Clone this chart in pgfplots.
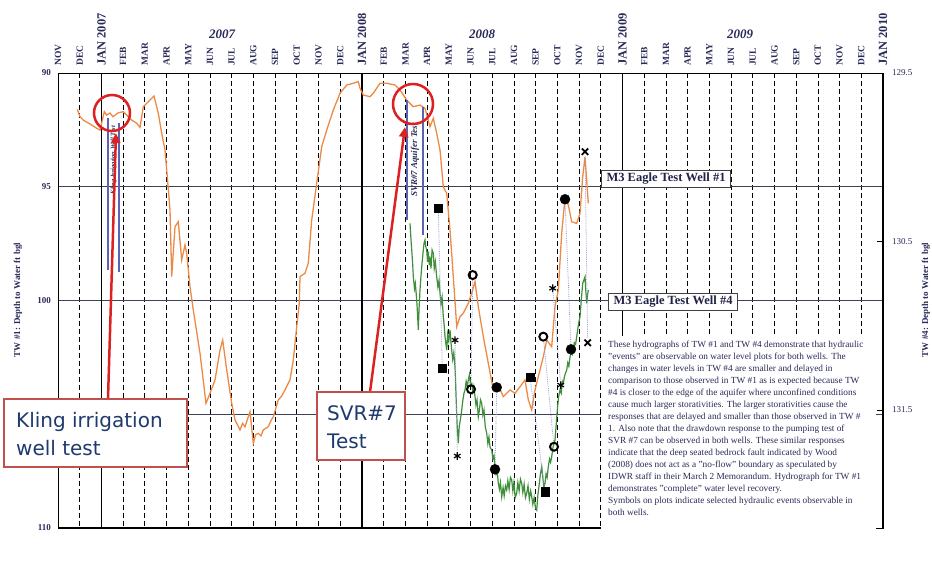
\documentclass[border=0pt]{standalone}
\usepackage{pgfplots}
\pgfplotsset{compat=1.18}
\usepackage{fontspec}
\setmainfont{Liberation Serif}
\newfontfamily\boxfont{DejaVu Sans}
\usetikzlibrary{arrows.meta}
\definecolor{orangeL}{HTML}{EC8A45}
\definecolor{greenL}{HTML}{3F8F3A}
\definecolor{gridH}{HTML}{3A4454}
\definecolor{bandBlue}{HTML}{5A64B4}
\definecolor{annRed}{HTML}{DD2020}
\definecolor{boxRed}{HTML}{C0504D}
\definecolor{navy}{HTML}{1F3A6E}
\definecolor{inkBlue}{HTML}{2A2A58}
\definecolor{dotLav}{HTML}{9A9AD8}

\begin{document}
\begin{tikzpicture}[x=1pt,y=1pt]
\useasboundingbox (0,0) rectangle (932,573);
% ---------------- TW #1 (left axis) ----------------
\begin{axis}[
  at={(58pt,45pt)}, anchor=south west,
  scale only axis, width=825pt, height=455pt,
  xmin=0, xmax=38, ymin=90, ymax=110, y dir=reverse,
  axis line style={black, line width=0.9pt},
  xtick={0,...,38},
  xticklabels={NOV,DEC,{\fontsize{12.5}{12.5}\selectfont JAN 2007},FEB,MAR,APR,MAY,JUN,JUL,AUG,SEP,OCT,NOV,DEC,{\fontsize{12.5}{12.5}\selectfont JAN 2008},FEB,MAR,APR,MAY,JUN,JUL,AUG,SEP,OCT,NOV,DEC,{\fontsize{12.5}{12.5}\selectfont JAN 2009},FEB,MAR,APR,MAY,JUN,JUL,AUG,SEP,OCT,NOV,DEC,{\fontsize{12.5}{12.5}\selectfont JAN 2010}},
  xticklabel pos=upper,
  xticklabel style={rotate=90, anchor=west, font=\bfseries\fontsize{9.5}{10}\selectfont, inner sep=0pt, text=inkBlue},
  xticklabel shift=7pt,
  ytick={90,95,100,105,110},
  yticklabels={90,95,100,,110},
  yticklabel style={font=\bfseries\fontsize{9}{9}\selectfont, inner sep=0pt, text=inkBlue},
  yticklabel shift=7pt,
  major tick length=0pt,
  xmajorgrids, ymajorgrids,
  x grid style={black, line width=0.7pt, dash pattern=on 5pt off 3pt},
  y grid style={gridH, line width=0.9pt},
  extra x ticks={2,14,26},
  extra x tick labels={},
  extra x tick style={x grid style={black, solid, line width=1.4pt}},
  clip=false,
]
\addplot[orangeL, line width=1.3pt] coordinates {
(0.889,91.60)(1.013,91.92)(1.165,92.07)(1.474,92.24)(1.783,92.43)(1.935,92.51)(2.133,91.70)(2.243,91.85)(2.395,91.76)(2.533,91.92)(2.777,91.75)(3.008,91.70)(3.238,91.92)(3.395,92.07)(3.625,92.21)(3.777,92.39)(3.929,91.48)(4.159,91.26)(4.422,91.01)(4.620,91.77)(4.777,92.65)(4.928,93.38)(5.034,94.56)(5.159,96.02)(5.237,98.95)(5.389,96.76)(5.541,96.54)(5.698,98.22)(5.850,97.56)(5.928,97.93)(6.080,99.39)(6.232,100.42)(6.541,102.32)(6.817,104.52)(7.001,104.08)(7.232,103.49)(7.462,102.18)(7.586,101.74)(7.770,103.05)(8.001,104.52)(8.153,105.25)(8.383,105.69)(8.500,105.40)(8.613,105.55)(8.844,104.89)(8.996,106.28)(9.100,105.90)(9.226,105.84)(9.350,105.95)(9.456,105.69)(9.687,105.55)(9.800,105.30)(9.917,105.11)(10.147,104.37)(10.300,104.20)(10.456,103.93)(10.686,103.49)(10.838,102.62)(10.995,101.15)(11.114,100.12)(11.147,98.95)(11.377,98.80)(11.529,98.36)(11.686,96.46)(11.916,94.85)(12.146,93.24)(12.377,92.51)(12.680,91.63)(12.989,90.89)(13.298,90.53)(13.602,90.45)(13.832,90.38)(13.910,90.67)(14.062,90.97)(14.371,91.04)(14.523,90.89)(14.831,90.45)(15.140,90.45)(15.523,90.53)(15.753,90.75)(16.062,91.19)(16.366,91.48)(16.674,91.41)(16.904,91.55)(17.135,92.36)(17.287,91.99)(17.443,92.65)(17.595,93.38)(17.747,95.00)(17.904,95.29)(18.056,96.90)(18.208,98.95)(18.365,101.15)(18.517,100.71)(18.669,100.56)(18.899,100.12)(19.056,99.68)(19.208,99.17)(19.360,100.27)(19.590,101.59)(19.820,102.76)(20.051,103.93)(20.281,103.71)(20.511,104.23)(20.820,103.93)(21.050,104.08)(21.280,103.79)(21.511,103.49)(21.663,104.37)(21.819,104.81)(21.971,103.93)(22.123,103.35)(22.354,102.47)(22.510,101.74)(22.740,102.03)(22.892,100.27)(23.044,99.54)(23.201,97.05)(23.353,95.51)(23.505,95.80)(23.661,96.54)(23.892,96.61)(24.044,96.17)(24.168,94.56)(24.274,93.68)(24.426,95.73)
};
\addplot[only marks, mark=square*, mark size=4.3pt, black] coordinates {(17.517,95.95)(21.741,103.38)};
\addplot[only marks, mark=asterisk, mark size=3.8pt, black, line width=1.2pt] coordinates {(18.286,101.74)(22.786,99.46)};
\addplot[only marks, mark=o, mark size=4pt, black, line width=2pt] coordinates {(19.101,98.88)(22.354,101.59)};
\addplot[only marks, mark=*, mark size=5pt, black] coordinates {(20.207,103.82)(23.353,95.55)};
\addplot[only marks, mark=x, mark size=4.5pt, black, line width=1.8pt] coordinates {(24.274,93.46)};
\coordinate (o1) at (axis cs:17.517,95.95);
\coordinate (o2) at (axis cs:18.286,101.74);
\coordinate (o3) at (axis cs:19.101,98.88);
\coordinate (o4) at (axis cs:20.207,103.82);
\coordinate (o5) at (axis cs:21.741,103.38);
\coordinate (o6) at (axis cs:22.354,101.59);
\coordinate (o7) at (axis cs:22.786,99.46);
\coordinate (o8) at (axis cs:23.353,95.55);
\coordinate (o9) at (axis cs:24.274,93.46);
\end{axis}
% ---------------- TW #4 (right axis) ----------------
\begin{axis}[
  at={(58pt,45pt)}, anchor=south west,
  scale only axis, width=825pt, height=455pt,
  xmin=0, xmax=38, ymin=129.5, ymax=132.2003, y dir=reverse,
  axis x line=none, axis y line*=right,
  axis line style={black, line width=2.2pt},
  ytick={129.5,130.5,131.5}, yticklabels={129.5,130.5,131.5},
  yticklabel style={font=\fontsize{9}{9}\selectfont, inner sep=0pt, text=inkBlue},
  yticklabel shift=9pt,
  major tick length=6pt, tick style={black, line width=0.9pt},
  clip=false,
]
\addplot[greenL, line width=1.2pt] coordinates {
(16.213,130.392)(16.25,130.47)(16.292,130.550)(16.33,130.62)(16.366,130.709)(16.42,130.78)(16.46,130.75)(16.522,130.847)(16.56,130.93)(16.596,131.025)(16.63,130.90)(16.674,130.788)(16.71,130.72)(16.752,130.650)(16.79,130.60)(16.826,130.550)(16.86,130.51)(16.904,130.491)(16.94,130.53)(16.983,130.550)(17.02,130.62)(17.06,130.56)(17.10,130.64)(17.135,130.590)(17.18,130.66)(17.23,130.55)(17.287,130.570)(17.33,130.66)(17.38,130.62)(17.443,130.709)(17.50,130.77)(17.55,130.73)(17.595,130.807)(17.64,130.87)(17.69,130.83)(17.747,130.946)(17.79,131.00)(17.826,131.065)(17.86,131.10)(17.904,131.144)(17.95,131.05)(18.00,131.09)(18.056,131.025)(18.10,131.10)(18.134,131.144)(18.18,131.20)(18.23,131.16)(18.286,131.243)(18.33,131.40)(18.38,131.58)(18.438,131.698)(18.48,131.60)(18.53,131.56)(18.595,131.500)(18.65,131.44)(18.70,131.40)(18.747,131.381)(18.80,131.33)(18.85,131.36)(18.899,131.322)(18.95,131.29)(19.00,131.35)(19.056,131.342)(19.10,131.39)(19.15,131.36)(19.208,131.421)(19.25,131.47)(19.30,131.44)(19.360,131.540)(19.41,131.50)(19.46,131.44)(19.516,131.460)(19.57,131.53)(19.62,131.50)(19.68,131.60)(19.747,131.638)(19.80,131.70)(19.85,131.66)(19.90,131.72)(19.977,131.737)(20.03,131.79)(20.08,131.77)(20.129,131.836)(20.18,131.88)(20.23,131.86)(20.281,131.935)(20.33,131.97)(20.38,131.93)(20.437,132.015)(20.50,131.96)(20.55,132.01)(20.61,131.95)(20.668,131.975)(20.72,131.92)(20.78,131.97)(20.84,131.90)(20.898,131.915)(20.95,131.98)(21.00,131.93)(21.06,132.02)(21.128,131.994)(21.18,131.93)(21.24,131.98)(21.30,131.91)(21.359,131.935)(21.41,131.99)(21.47,131.94)(21.53,132.02)(21.589,131.994)(21.65,131.95)(21.71,132.03)(21.77,131.98)(21.819,132.015)(21.87,132.06)(21.93,132.02)(21.99,132.08)(22.050,132.094)(22.10,132.01)(22.170,131.935)(22.22,131.88)(22.280,131.836)(22.33,131.90)(22.38,131.96)(22.432,131.935)(22.48,131.88)(22.53,131.90)(22.584,131.836)(22.64,131.79)(22.69,131.81)(22.740,131.777)(22.80,131.72)(22.85,131.70)(22.892,131.678)(22.94,131.60)(22.998,131.500)(23.06,131.42)(23.123,131.381)(23.18,131.40)(23.23,131.33)(23.275,131.342)(23.33,131.30)(23.38,131.28)(23.432,131.263)(23.48,131.22)(23.53,131.24)(23.584,131.184)(23.64,131.16)(23.69,131.17)(23.736,131.144)(23.78,131.10)(23.84,131.11)(23.892,131.065)(23.94,131.02)(23.99,130.98)(24.044,130.946)(24.10,130.85)(24.168,130.748)(24.22,130.73)(24.274,130.709)(24.31,130.79)(24.352,130.867)(24.39,130.82)(24.426,130.788)
};
\addplot[only marks, mark=square*, mark size=4.3pt, black] coordinates {(17.701,131.253)(22.432,131.985)};
\addplot[only marks, mark=asterisk, mark size=3.8pt, black, line width=1.2pt] coordinates {(18.392,131.773)(23.155,131.352)};
\addplot[only marks, mark=o, mark size=4pt, black, line width=2pt] coordinates {(19.023,131.377)(22.846,131.718)};
\addplot[only marks, mark=*, mark size=5pt, black] coordinates {(20.129,131.852)(23.629,131.140)};
\addplot[only marks, mark=x, mark size=4.5pt, black, line width=1.8pt] coordinates {(24.398,131.101)};
\coordinate (g1) at (axis cs:17.701,131.253);
\coordinate (g2) at (axis cs:18.392,131.773);
\coordinate (g3) at (axis cs:19.023,131.377);
\coordinate (g4) at (axis cs:20.129,131.852);
\coordinate (g5) at (axis cs:22.432,131.985);
\coordinate (g6) at (axis cs:22.846,131.718);
\coordinate (g7) at (axis cs:23.155,131.352);
\coordinate (g8) at (axis cs:23.629,131.140);
\coordinate (g9) at (axis cs:24.398,131.101);
\end{axis}
% connectors between paired events
\foreach \i in {1,...,9}{
  \draw[dotLav, line width=0.8pt, densely dotted, shorten <=5pt, shorten >=5pt] (o\i) -- (g\i);
}
% ---------------- annotations (pixel frame) ----------------
\begin{scope}[shift={(0pt,573pt)}, x=1pt, y=-1pt]
\draw[black, line width=2pt] (58,528) -- (603,528);
% test bands
\draw[bandBlue, line width=1.1pt] (108,118) -- (108,270);
\draw[bandBlue, line width=1.1pt] (119,123) -- (119,272);
\node[rotate=90, font=\bfseries\itshape\fontsize{6.5}{7}\selectfont, text=inkBlue, inner sep=0pt] at (113.5,160) {Kling Irrigation Well Test};
\draw[bandBlue, line width=1.1pt] (407,100) -- (407,220);
\draw[bandBlue, line width=1.1pt] (423,107) -- (423,235);
\node[rotate=90, font=\bfseries\itshape\fontsize{9}{9}\selectfont, text=inkBlue, inner sep=0pt] at (415,160) {SVR\#7 Aquifer Test};
% series labels
\node[draw=black!75, fill=white, line width=0.8pt, font=\bfseries\fontsize{12.5}{12.5}\selectfont, inner xsep=5pt, inner ysep=3pt, text=inkBlue!80!black] at (666,179) {M3 Eagle Test Well \#1};
\node[draw=black!75, fill=white, line width=0.8pt, font=\bfseries\fontsize{12.5}{12.5}\selectfont, inner xsep=5pt, inner ysep=3pt, text=inkBlue!80!black] at (673,302) {M3 Eagle Test Well \#4};
% note
\fill[white] (601,336) rectangle (876,531);
\node[anchor=north west, align=left, inner sep=0pt, font=\fontsize{9.3}{12}\selectfont, text=inkBlue] at (608,341) {These hydrographs of TW \#1 and TW \#4 demonstrate that hydraulic\\
"events" are observable on water level plots for both wells. The\\
changes in water levels in TW \#4 are smaller and delayed in\\
comparison to those observed in TW \#1 as is expected because TW\\
\#4 is closer to the edge of the aquifer where unconfined conditions\\
cause much larger storativities. The larger storativities cause the\\
responses that are delayed and smaller than those observed in TW \#\\
1. Also note that the drawdown response to the pumping test of\\
SVR \#7 can be observed in both wells. These similar responses\\
indicate that the deep seated bedrock fault indicated by Wood\\
(2008) does not act as a "no-flow" boundary as speculated by\\
IDWR staff in their March 2 Memorandum. Hydrograph for TW \#1\\
demonstrates "complete" water level recovery.\\
Symbols on plots indicate selected hydraulic events observable in\\
both wells.};
% top labels
\node[font=\bfseries\itshape\fontsize{13}{13}\selectfont, text=inkBlue] at (222,34) {2007};
\node[font=\bfseries\itshape\fontsize{13}{13}\selectfont, text=inkBlue] at (482,34) {2008};
\node[font=\bfseries\itshape\fontsize{13}{13}\selectfont, text=inkBlue] at (740,34) {2009};
% axis titles
\node[rotate=90, font=\bfseries\fontsize{9}{9}\selectfont, text=inkBlue] at (18,300) {TW \#1: Depth to Water ft bgl};
\node[rotate=90, font=\bfseries\fontsize{9}{9}\selectfont, text=inkBlue] at (926,300) {TW \#4: Depth to Water ft bgl};
% red highlights
\draw[annRed, line width=2.5pt] (112,113) circle (18);
\draw[annRed, line width=2.5pt] (413,104) circle (20);
\draw[annRed, line width=2.5pt, -{Triangle[length=10pt,width=9pt]}] (108,399) -- (116,133);
\draw[annRed, line width=2.5pt, -{Triangle[length=10pt,width=9pt]}] (370,392) -- (405,127);
% callout boxes
\draw[boxRed, line width=1.3pt, fill=white] (4,399) rectangle (187,467);
\node[anchor=base west, inner sep=0pt, text=navy, font=\boxfont\fontsize{20}{20}\selectfont] at (16,428) {Kling irrigation};
\node[anchor=base west, inner sep=0pt, text=navy, font=\boxfont\fontsize{20}{20}\selectfont] at (16,456) {well test};
\draw[boxRed, line width=1.3pt, fill=white] (317,392) rectangle (405,460);
\node[anchor=base west, inner sep=0pt, text=navy, font=\boxfont\fontsize{20}{20}\selectfont] at (327,421) {SVR\#7};
\node[anchor=base west, inner sep=0pt, text=navy, font=\boxfont\fontsize{20}{20}\selectfont] at (327,449) {Test};
\end{scope}
\end{tikzpicture}
\end{document}
